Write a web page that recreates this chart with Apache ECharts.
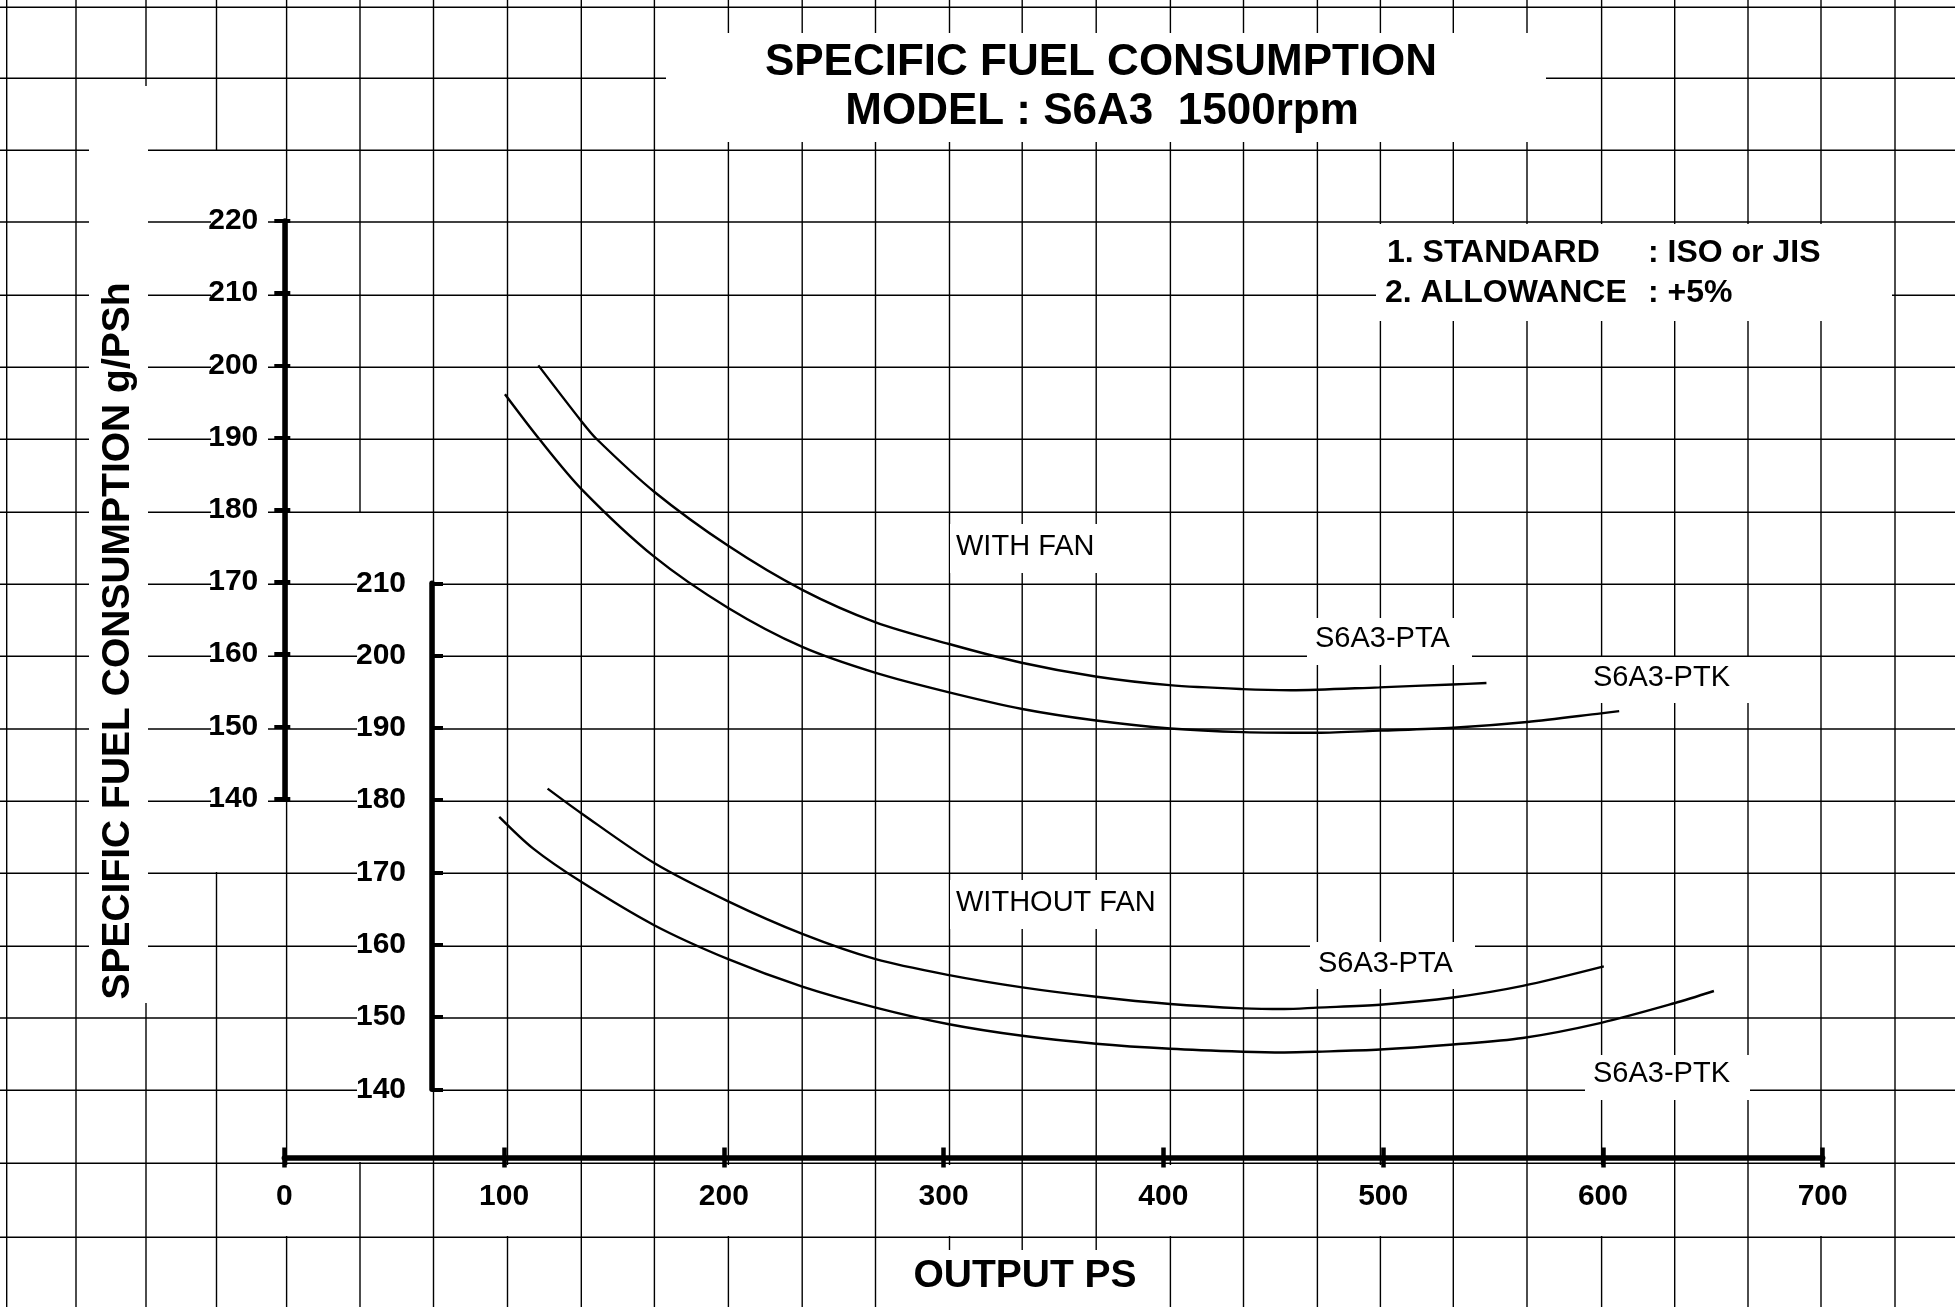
<!doctype html>
<html lang="en">
<head>
<meta charset="UTF-8">
<title>SPECIFIC FUEL CONSUMPTION</title>
<style>
  html, body { margin: 0; padding: 0; background: #fff; }
  #chart { width: 1955px; height: 1307px; }
</style>
</head>
<body>
<div id="chart"></div>
<script src="https://cdn.jsdelivr.net/npm/echarts@6.0.0/dist/echarts.min.js"></script>
<script>
// output PS -> g/PSh
var fanPTA = [[115.6,200.0],[135.1,192.3],[142.1,189.8],[168.3,182.5],[202.0,175.0],[235.7,168.9],[269.1,164.4],[302.5,161.4],[335.5,158.8],[369.1,156.9],[402.8,155.7],[436.0,155.15],[458.0,155.0],[498.2,155.4],[531.4,155.8],[547.0,156.0]];
var fanPTK = [[100.4,196.0],[116.0,189.8],[135.1,182.9],[168.3,173.5],[202.0,166.4],[235.7,161.0],[269.1,157.4],[302.5,154.7],[335.8,152.4],[369.4,150.8],[403.1,149.7],[436.3,149.2],[470.0,149.1],[498.6,149.4],[531.9,149.8],[565.5,150.6],[599.2,151.8],[607.4,152.1]];
var noFanPTA = [[119.8,181.6],[135.1,178.2],[168.3,171.3],[202.0,166.0],[235.7,161.5],[269.1,158.0],[302.5,155.8],[335.8,154.1],[369.4,152.8],[403.1,151.8],[436.3,151.2],[455.0,151.1],[470.0,151.3],[498.6,151.7],[531.9,152.7],[563.5,154.3],[600.4,157.0]];
var noFanPTK = [[97.8,177.7],[113.3,173.3],[135.1,168.7],[168.3,162.7],[202.0,158.0],[235.7,154.2],[269.1,151.3],[302.5,149.0],[335.8,147.4],[369.4,146.3],[403.1,145.6],[436.3,145.2],[455.0,145.1],[470.0,145.2],[498.6,145.5],[531.9,146.2],[563.5,147.1],[599.2,149.2],[632.4,151.9],[650.5,153.6]];

var xTicks = [0, 100, 200, 300, 400, 500, 600, 700];
var fanRange = [140, 220];
var noFanRange = [140, 210];

// graph paper behind the chart (pixel layout of the sheet)
var vGrid = [6.7,76,146,216.5,286.6,360,433.5,507.5,581.3,654.4,728.4,802.2,875.5,949.5,1022.2,1096.2,1170.4,1243.5,1317.4,1380.4,1453.3,1527,1601.6,1674.7,1748,1821,1895];
var hGrid = [7.3,78.3,150.3,222,295.3,367.3,439.3,512.3,584.3,656.3,729,801.3,873.3,946.3,1018,1090.3,1163.3,1237.3];
// white patches where the paper is blanked out behind lettering
var blanks = [
  [666,33,880,109],[89,86,59,917],[1376,224,516,97],[211,151,57,721],[357,513,73,649],
  [905,1250,240,57],[950,524,152,49],[950,880,212,49],
  [1307,618,165,47],[1584,657,166,46],[1310,942,165,47],[1585,1055,165,45]
];
[284,504,724,944,1164,1384,1604,1823].forEach(function (c) { blanks.push([c - 30, 1165, 60, 71]); });

var W = 1955, H = 1307;
var BOLD = "'Liberation Sans', Arial, sans-serif";

var graphics = [];
vGrid.forEach(function (x) {
  graphics.push({type: 'line', silent: true, z: 1, shape: {x1: x, y1: 0, x2: x, y2: H}, style: {stroke: '#000', lineWidth: 1.4}});
});
hGrid.forEach(function (y) {
  graphics.push({type: 'line', silent: true, z: 1, shape: {x1: 0, y1: y, x2: W, y2: y}, style: {stroke: '#000', lineWidth: 1.4}});
});
blanks.forEach(function (b) {
  graphics.push({type: 'rect', silent: true, z: 2, shape: {x: b[0], y: b[1], width: b[2], height: b[3]}, style: {fill: '#fff'}});
});

function txt(s, x, y, font, align, rot) {
  graphics.push({
    type: 'text', silent: true, z: 20, x: x, y: y, rotation: rot || 0,
    style: {text: s, font: font, fill: '#000', textAlign: align || 'left', textVerticalAlign: 'middle'}
  });
}
txt('SPECIFIC FUEL CONSUMPTION', 1101, 63, 'bold 44px ' + BOLD, 'center');
txt('MODEL : S6A3  1500rpm', 1102, 112, 'bold 44px ' + BOLD, 'center');
txt('1. STANDARD', 1387, 253, 'bold 32px ' + BOLD);
txt(': ISO or JIS', 1648, 253, 'bold 32px ' + BOLD);
txt('2. ALLOWANCE', 1385, 293, 'bold 32px ' + BOLD);
txt(': +5%', 1648, 293, 'bold 32px ' + BOLD);
txt('SPECIFIC FUEL CONSUMPTION g/PSh', 118, 641, 'bold 39px ' + BOLD, 'center', Math.PI / 2);
txt('OUTPUT PS', 1025, 1276, 'bold 39px ' + BOLD, 'center');
txt('WITH FAN', 956, 547, '29px ' + BOLD);
txt('WITHOUT FAN', 956, 903, '29px ' + BOLD);
txt('S6A3-PTA', 1315, 639, '29px ' + BOLD);
txt('S6A3-PTK', 1593, 678, '29px ' + BOLD);
txt('S6A3-PTA', 1318, 964, '29px ' + BOLD);
txt('S6A3-PTK', 1593, 1074, '29px ' + BOLD);

var axisFont = {fontFamily: BOLD, fontWeight: 'bold', fontSize: 30, color: '#000'};

function curve(data, xi, yi) {
  return {
    type: 'line', xAxisIndex: xi, yAxisIndex: yi, data: data, z: 6,
    showSymbol: false, smooth: 0.3,
    lineStyle: {color: '#000', width: 2.4}, silent: true
  };
}

var chart = echarts.init(document.getElementById('chart'), null, {renderer: 'canvas'});
chart.setOption({
  backgroundColor: '#fff',
  animation: false,
  graphic: {elements: graphics},
  grid: [
    {left: 284.3, right: W - 1822.7, top: 221, height: 577.5, outerBoundsMode: 'none'},
    {left: 284.3, right: W - 1822.7, top: 583.3, height: 506, outerBoundsMode: 'none'}
  ],
  xAxis: [
    {gridIndex: 0, type: 'value', min: xTicks[0], max: xTicks[xTicks.length - 1], show: false},
    {gridIndex: 1, type: 'value', min: xTicks[0], max: xTicks[xTicks.length - 1], interval: 100, position: 'bottom', offset: 68.2, z: 5,
      axisLine: {lineStyle: {color: '#000', width: 5.5}},
      axisTick: {inside: false, length: 10, lineStyle: {color: '#000', width: 4.5}},
      axisLabel: Object.assign({margin: 24}, axisFont),
      splitLine: {show: false}},
    {gridIndex: 1, type: 'value', min: xTicks[0], max: xTicks[xTicks.length - 1], interval: 100, position: 'bottom', offset: 68.2, z: 5,
      axisLine: {show: false},
      axisTick: {inside: true, length: 10, lineStyle: {color: '#000', width: 4.5}},
      axisLabel: {show: false}, splitLine: {show: false}}
  ],
  yAxis: [
    {gridIndex: 0, type: 'value', min: fanRange[0], max: fanRange[1], interval: 10, position: 'left', offset: 4, z: 5,
      axisLine: {show: true, lineStyle: {color: '#000', width: 5.5}},
      axisTick: {show: true, inside: false, length: 10, lineStyle: {color: '#000', width: 4}},
      axisLabel: Object.assign({margin: 22}, axisFont),
      splitLine: {show: false}},
    {gridIndex: 0, type: 'value', min: fanRange[0], max: fanRange[1], interval: 10, position: 'left', offset: 4, z: 5,
      axisLine: {show: false},
      axisTick: {show: true, inside: true, length: 10, lineStyle: {color: '#000', width: 4}},
      axisLabel: {show: false}, splitLine: {show: false}},
    {gridIndex: 1, type: 'value', min: noFanRange[0], max: noFanRange[1], interval: 10, position: 'left', offset: -147.7, z: 5,
      axisLine: {show: true, lineStyle: {color: '#000', width: 5.5}},
      axisTick: {show: true, inside: true, length: 11, lineStyle: {color: '#000', width: 4}},
      axisLabel: Object.assign({margin: 26}, axisFont),
      splitLine: {show: false}}
  ],
  series: [
    curve(fanPTA, 0, 0),
    curve(fanPTK, 0, 0),
    curve(noFanPTA, 1, 2),
    curve(noFanPTK, 1, 2)
  ]
});
</script>
</body>
</html>
